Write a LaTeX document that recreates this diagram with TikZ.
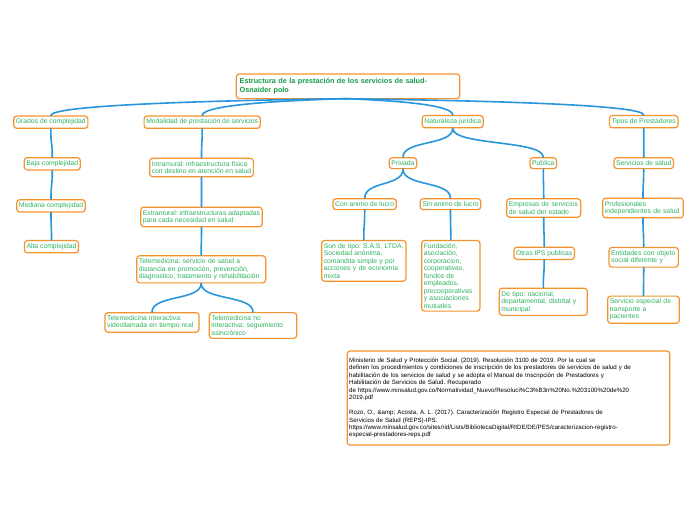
\documentclass[tikz,border=0pt]{standalone}
\usepackage{fontspec}
\setmainfont{Liberation Sans}
\usetikzlibrary{calc}
\frenchspacing
\definecolor{ob}{RGB}{245,146,45}
\definecolor{gt}{RGB}{45,178,95}
\definecolor{gtitle}{RGB}{20,155,70}
\definecolor{bl}{RGB}{40,150,220}
\newcommand\mmlink[2]{\draw[conn] (#1.south) .. controls ($(#1.south)!0.6!(#1.south|-#2.north)$) and ($(#2.north)!0.6!(#2.north|-#1.south)$) .. (#2.north);}
\newcommand\mmtop[1]{\draw[conn] (torig) .. controls ($(torig)!0.5!(torig-|#1.north)+(0,2)$) and ($(#1.north)+(0,-10)$) .. (#1.north);}
\begin{document}
\begin{tikzpicture}[x=0.75pt,y=-0.75pt,
  box/.style={draw=ob, line width=0.9pt, rounded corners=2.2pt, fill=white, text=gt,
    font=\fontsize{5.1}{5.6}\selectfont, inner xsep=1.6pt, inner ysep=2.2pt, align=left},
  titlebox/.style={box, text=gtitle, font=\bfseries\fontsize{5.45}{6.8}\selectfont, text width=162.5pt, minimum height=18.5pt, inner xsep=2.5pt},
  refbox/.style={box, text=black, font=\fontsize{4.62}{5.6}\selectfont, text width=239pt, minimum height=70.5pt, inner xsep=1.5pt},
  conn/.style={draw=bl, line width=1.2pt, line cap=round}]
\useasboundingbox (0,0) rectangle (696,520);
\fill[white] (0,0) rectangle (696,520);
% nodes
\node[titlebox] (title) at (348,86.3) {Estructura de la prestación de los servicios de salud-\\Osnaider polo};
\coordinate (torig) at (345,98.7);
\node[box] (grados) at (50.8,122.2) {Grados de complejidad};
\node[box] (modal) at (202.2,122.2) {Modalidad de prestación de servicios};
\node[box] (natur) at (452.7,121.7) {Naturaleza jurídica};
\node[box] (tipos) at (643.7,121.7) {Tipos de Prestadores};
\node[box] (baja) at (52.3,163.8) {Baja complejidad};
\node[box] (intra) at (201.5,167.5) {Intramural: infraestructura física\\con destino en atención en salud};
\node[box] (privada) at (403,163.2) {Privada};
\node[box] (publica) at (543.3,163.2) {Publica};
\node[box] (servsal) at (643.7,163.2) {Servicios de salud};
\node[box] (mediana) at (51,205.8) {Mediana complejidad};
\node[box] (extra) at (201.5,217) {Extramural: infraestructuras adaptadas\\para cada necesidad en salud};
\node[box] (con) at (364.7,204.2) {Con animo de lucro};
\node[box] (sin) at (450.5,204.2) {Sin animo de lucro};
\node[box, text width=52.3pt] (empresas) at (543.7,208) {Empresas de servicios\\de salud del estado};
\node[box, text width=57.2pt] (prof) at (643,208) {Profesionales\\independientes de salud};
\node[box] (alta) at (51.5,246.7) {Alta complejidad};
\node[box, text width=93.5pt] (tele) at (201.2,269.3) {Telemedicina: servicio de salud a\\distancia en promoción, prevención,\\diagnostico, tratamiento y rehabilitación};
\node[box, text width=60pt] (sontipo) at (363.8,260.8) {Son de tipo: S.A.S, LTDA,\\Sociedad anónima,\\comandita simple y por\\acciones y de economía\\mixta};
\node[box, text width=40.5pt] (fund) at (450.8,275.8) {Fundación,\\asociación,\\corporacion,\\cooperativas,\\fondos de\\empleados,\\precooperativas\\y asociaciones\\mutuales};
\node[box] (otras) at (544.2,253.3) {Otras IPS publicas};
\node[box, text width=48.8pt] (entidades) at (643.7,257.3) {Entidades con objeto\\social diferente y};
\node[box, text width=67.3pt] (tinter) at (152,322.5) {Telemedicina interactiva:\\videollamada en tiempo real};
\node[box, text width=62.3pt] (tnoint) at (253,325.5) {Telemedicina no\\interactiva: seguimiento\\asincrónico};
\node[box, text width=62.8pt] (detipo) at (543.3,301.8) {De tipo: nacional,\\departamental, distrital y\\municipal};
\node[box, text width=50.5pt] (servesp) at (643.5,309.7) {Servicio especial de\\transporte a\\pacientes};
\node[refbox] (refs) at (508.5,398) {Ministerio de Salud y Protección Social. (2019). Resolución 3100 de 2019. Por la cual se\\
definen los procedimientos y condiciones de inscripción de los prestadores de servicios de salud y de\\
habilitación de los servicios de salud y se adopta el Manual de Inscripción de Prestadores y\\
Habilitación de Servicios de Salud. Recuperado\\
de https://www.minsalud.gov.co/Normatividad\_Nuevo/Resoluci\%C3\%B3n\%20No.\%203100\%20de\%20\\
2019.pdf\\[5.6pt]
Rozo, O., \&amp; Acosta, A. L. (2017). Caracterización Registro Especial de Prestadores de\\
Servicios de Salud (REPS)-IPS.\\
https://www.minsalud.gov.co/sites/rid/Lists/BibliotecaDigital/RIDE/DE/PES/caracterizacion-registro-\\
especial-prestadores-reps.pdf};
% connectors
\mmtop{grados}
\mmtop{modal}
\mmtop{natur}
\mmtop{tipos}
\mmlink{grados}{baja}
\mmlink{baja}{mediana}
\mmlink{mediana}{alta}
\mmlink{modal}{intra}
\mmlink{intra}{extra}
\mmlink{extra}{tele}
\mmlink{tele}{tinter}
\mmlink{tele}{tnoint}
\mmlink{natur}{privada}
\mmlink{natur}{publica}
\mmlink{privada}{con}
\mmlink{privada}{sin}
\mmlink{con}{sontipo}
\mmlink{sin}{fund}
\mmlink{publica}{empresas}
\mmlink{empresas}{otras}
\mmlink{otras}{detipo}
\mmlink{tipos}{servsal}
\mmlink{servsal}{prof}
\mmlink{prof}{entidades}
\mmlink{entidades}{servesp}
\end{tikzpicture}
\end{document}
